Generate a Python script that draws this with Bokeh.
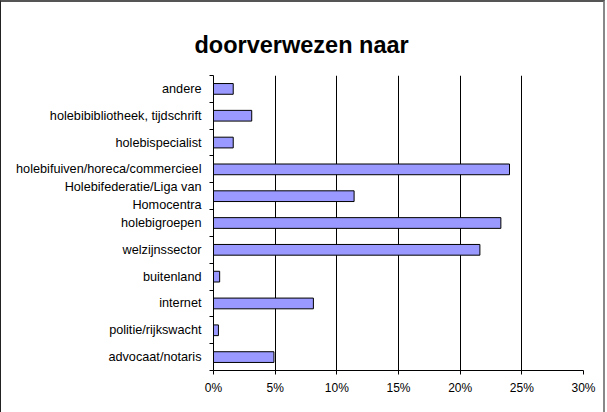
from bokeh.plotting import figure
from bokeh.models import Range1d, FixedTicker, NumeralTickFormatter
from bokeh.embed import file_html
from bokeh.resources import INLINE

title_text = "doorverwezen naar"
categories = [
    "andere",
    "holebibibliotheek, tijdschrift",
    "holebispecialist",
    "holebifuiven/horeca/commercieel",
    "Holebifederatie/Liga van\nHomocentra",
    "holebigroepen",
    "welzijnssector",
    "buitenland",
    "internet",
    "politie/rijkswacht",
    "advocaat/notaris",
]
values = [0.016, 0.031, 0.016, 0.240, 0.114, 0.233, 0.216, 0.005, 0.081, 0.004, 0.049]
x_ticks = [0.0, 0.05, 0.10, 0.15, 0.20, 0.25, 0.30]

n = len(categories)
positions = list(range(n))
boundaries = [i - 0.5 for i in range(n + 1)]

p = figure(
    width=605, height=412,
    output_backend="svg", toolbar_location=None,
    x_range=Range1d(0, 0.30), y_range=Range1d(n - 0.5, -0.5),
    min_border_left=212, min_border_right=23,
    min_border_top=73, min_border_bottom=44,
    title=title_text,
)
p.styles = {"border-top": "2px solid #555555", "border-left": "1px solid #222222",
            "border-right": "2px solid #888888"}
p.outline_line_color = None
p.background_fill_color = "white"
p.border_fill_color = "white"

p.title.align = "left"
p.title.offset = -19
p.title.standoff = 35
p.title.text_font = "Liberation Sans"
p.title.text_font_size = "23.5px"
p.title.text_font_style = "bold"
p.title.text_color = "black"

p.hbar(y=positions, left=0, right=values, height=0.4,
       fill_color="#9999FF", line_color="black", line_width=1)

# x axis
xa = p.xaxis[0]
xa.ticker = FixedTicker(ticks=x_ticks, minor_ticks=[])
xa.formatter = NumeralTickFormatter(format="0%")
xa.axis_line_color = "black"
xa.major_tick_line_color = "black"
xa.major_tick_in = 0
xa.major_tick_out = 4
xa.minor_tick_line_color = None
xa.major_label_standoff = 6
xa.major_label_text_font = "Liberation Sans"
xa.major_label_text_font_size = "12px"
xa.major_label_text_color = "black"

# y axis
ya = p.yaxis[0]
ya.ticker = FixedTicker(ticks=positions, minor_ticks=boundaries)
ya.major_label_overrides = {i: c for i, c in enumerate(categories)}
ya.axis_line_color = "black"
ya.major_tick_line_color = None
ya.minor_tick_line_color = "black"
ya.minor_tick_in = 0
ya.minor_tick_out = 4
ya.major_label_standoff = 6
ya.major_label_text_font = "Liberation Sans"
ya.major_label_text_font_size = "12.7px"
ya.major_label_text_color = "black"
ya.major_label_text_line_height = 1.25

p.xgrid.ticker = FixedTicker(ticks=x_ticks)
p.xgrid.grid_line_color = "black"
p.xgrid.grid_line_width = 1
p.ygrid.grid_line_color = None

open("out.html", "w").write(file_html(p, INLINE))
